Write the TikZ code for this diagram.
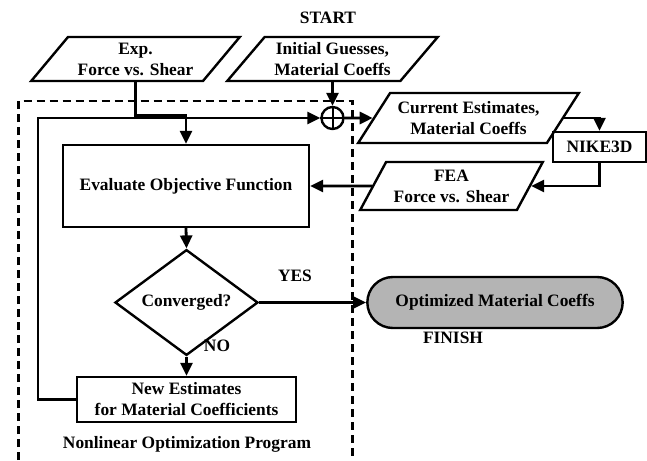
\documentclass[tikz,border=0pt]{standalone}
\usepackage{fontspec}
\setmainfont{Liberation Serif}
\usetikzlibrary{arrows.meta,shapes.geometric,shapes.misc}
\definecolor{optgray}{RGB}{180,180,180}

\tikzset{
  box/.style={draw,line width=2.4pt,rectangle,inner sep=0pt,align=center},
  iobox/.style={draw,line width=2.4pt,trapezium,trapezium stretches=true,
    inner sep=0pt,align=center},
  flow/.style={->,line width=2.8pt},
}

\begin{document}
\begin{tikzpicture}[x=1pt,y=-1pt,>={Triangle[length=13pt,width=12pt]},
  font=\fontsize{17.4}{21}\selectfont\bfseries]
\useasboundingbox (0,0) rectangle (647,460);
% optimizer frame
\draw[line width=2.8pt,dash pattern=on 8pt off 5pt] (18.5,460) |- (352.5,101) -- (352.5,460);
% inputs
\node[iobox,trapezium left angle=46,trapezium right angle=134,
  minimum width=209pt,minimum height=44pt] (exp) at (135.5,59) {Exp.\\Force vs. Shear};
\node[iobox,trapezium left angle=46,trapezium right angle=134,
  minimum width=211pt,minimum height=44pt] (init) at (332.5,59) {Initial Guesses,\\Material Coeffs};
\node (start) at (328,18) {START};
\node[draw,circle,line width=2.4pt,minimum size=22pt,inner sep=0pt] (sum) at (332.5,118) {};
\draw[line width=2pt] (sum.north) -- (sum.south) (sum.west) -- (sum.east);
% solver loop
\node[iobox,trapezium left angle=49,trapezium right angle=131,
  minimum width=221pt,minimum height=50pt] (cur) at (468.5,118) {Current Estimates,\\Material Coeffs};
\node[box,minimum width=93pt,minimum height=30pt] (nike) at (599.5,147) {NIKE3D};
\node[iobox,trapezium left angle=55,trapezium right angle=125,
  minimum width=183pt,minimum height=48pt] (fea) at (451.5,186) {FEA\\Force vs. Shear};
% optimizer
\node[box,minimum width=246pt,minimum height=82pt] (eval) at (186,186) {Evaluate Objective Function};
\node[draw,diamond,line width=2.4pt,inner sep=0pt,minimum width=143pt,minimum height=95pt] (conv) at (186.5,302.5) {Converged?};
\node[box,minimum width=219pt,minimum height=45pt] (newest) at (186.5,399.5) {New Estimates\\for Material Coefficients};
\node[draw,rounded rectangle,line width=2.4pt,fill=optgray,minimum width=262pt,minimum height=51pt] (opt) at (495,302.5) {Optimized Material Coeffs};
\node (yes) at (295,276) {YES};
\node (no) at (217,346) {NO};
\node (finish) at (453,338) {FINISH};
\node (nlp) at (187,444) {Nonlinear Optimization Program};
\coordinate (fbx) at (38,0);
% connectors
\draw[flow] (exp.south -| exp.center) -- ++(0,33) -| (eval.north);
\draw[flow] (sum.north |- init.south) -- (sum.north);
\draw[flow] (sum.east) -- (cur.180);
\draw[flow] (cur.0) -| (nike.north);
\draw[flow] (nike.south) |- (fea.0);
\draw[flow] (fea.180) -- (eval.east);
\draw[flow] (eval.south) -- (conv.north);
\draw[flow] (conv.east) -- (opt.west);
\draw[flow] (conv.south) -- (newest.north);
\draw[flow] (newest.west) -- (fbx |- newest.west) |- (sum.west);
\end{tikzpicture}
\end{document}
